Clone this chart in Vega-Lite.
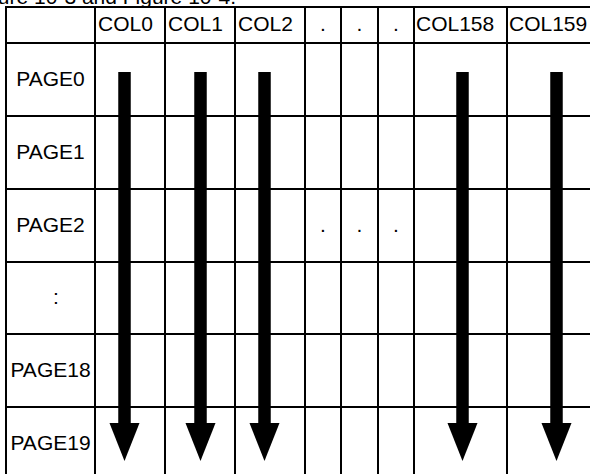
{
  "$schema": "https://vega.github.io/schema/vega-lite/v6.json",
  "width": 590,
  "height": 474,
  "padding": 0,
  "autosize": {"type": "none"},
  "background": "white",
  "config": {
    "view": {"stroke": null},
    "text": {"font": "Liberation Sans", "fontSize": 21, "color": "black"}
  },
  "datasets": {
    "vlines": [
      {"x": 6, "y": 7, "y2": 480}, {"x": 95, "y": 7, "y2": 480}, {"x": 165, "y": 7, "y2": 480},
      {"x": 235, "y": 7, "y2": 480}, {"x": 305, "y": 7, "y2": 480}, {"x": 341, "y": 7, "y2": 480},
      {"x": 378, "y": 7, "y2": 480}, {"x": 414, "y": 7, "y2": 480}, {"x": 507, "y": 7, "y2": 480},
      {"x": 600, "y": 7, "y2": 480}
    ],
    "hlines": [
      {"y": 7, "x": 5, "x2": 600}, {"y": 43, "x": 5, "x2": 600}, {"y": 116, "x": 5, "x2": 600},
      {"y": 189, "x": 5, "x2": 600}, {"y": 262, "x": 5, "x2": 600}, {"y": 334, "x": 5, "x2": 600},
      {"y": 407, "x": 5, "x2": 600}
    ],
    "headers": [
      {"label": "COL0", "x": 98, "y": 25}, {"label": "COL1", "x": 168, "y": 25},
      {"label": "COL2", "x": 238, "y": 25}, {"label": "COL158", "x": 416, "y": 25},
      {"label": "COL159", "x": 509, "y": 25}
    ],
    "dots": [
      {"label": ".", "x": 323, "y": 25}, {"label": ".", "x": 359.5, "y": 25}, {"label": ".", "x": 396, "y": 25},
      {"label": ".", "x": 323, "y": 225.5}, {"label": ".", "x": 359.5, "y": 225.5}, {"label": ".", "x": 396, "y": 225.5}
    ],
    "rows": [
      {"label": "PAGE0", "x": 50.5, "y": 79.5}, {"label": "PAGE1", "x": 50.5, "y": 152.5},
      {"label": "PAGE2", "x": 50.5, "y": 225.5}, {"label": ":", "x": 56, "y": 298},
      {"label": "PAGE18", "x": 50.5, "y": 370.5}, {"label": "PAGE19", "x": 50.5, "y": 443.5}
    ],
    "arrows": [
      {"col": "COL0", "x": 124.5, "y": 72, "y2": 424, "head": 442},
      {"col": "COL1", "x": 200.5, "y": 72, "y2": 424, "head": 442},
      {"col": "COL2", "x": 264.5, "y": 72, "y2": 424, "head": 442},
      {"col": "COL158", "x": 462.5, "y": 72, "y2": 424, "head": 442},
      {"col": "COL159", "x": 556.5, "y": 72, "y2": 424, "head": 442}
    ],
    "title": [{"label": "Figure 10-3 and Figure 10-4.", "x": 236, "y": 4}]
  },
  "layer": [
    {
      "data": {"name": "vlines"},
      "mark": {"type": "rule", "color": "black", "strokeWidth": 2},
      "encoding": {
        "x": {"field": "x", "type": "quantitative", "scale": {"domain": [0, 590], "nice": false, "zero": false}, "axis": null},
        "y": {"field": "y", "type": "quantitative", "scale": {"domain": [0, 474], "reverse": true, "nice": false, "zero": false}, "axis": null},
        "y2": {"field": "y2"}
      }
    },
    {
      "data": {"name": "hlines"},
      "mark": {"type": "rule", "color": "black", "strokeWidth": 2},
      "encoding": {
        "x": {"field": "x", "type": "quantitative", "scale": {"domain": [0, 590], "nice": false, "zero": false}, "axis": null},
        "x2": {"field": "x2"},
        "y": {"field": "y", "type": "quantitative", "scale": {"domain": [0, 474], "reverse": true, "nice": false, "zero": false}, "axis": null}
      }
    },
    {
      "data": {"name": "arrows"},
      "mark": {"type": "rule", "color": "black", "strokeWidth": 12.5},
      "encoding": {
        "x": {"field": "x", "type": "quantitative", "scale": {"domain": [0, 590], "nice": false, "zero": false}, "axis": null},
        "y": {"field": "y", "type": "quantitative", "scale": {"domain": [0, 474], "reverse": true, "nice": false, "zero": false}, "axis": null},
        "y2": {"field": "y2"}
      }
    },
    {
      "data": {"name": "arrows"},
      "mark": {"type": "point", "shape": "M-0.79,-1L0.79,-1L0,1Z", "size": 1444, "filled": true, "color": "black", "opacity": 1, "strokeWidth": 0},
      "encoding": {
        "x": {"field": "x", "type": "quantitative", "scale": {"domain": [0, 590], "nice": false, "zero": false}, "axis": null},
        "y": {"field": "head", "type": "quantitative", "scale": {"domain": [0, 474], "reverse": true, "nice": false, "zero": false}, "axis": null}
      }
    },
    {
      "data": {"name": "headers"},
      "mark": {"type": "text", "align": "left", "baseline": "middle"},
      "encoding": {
        "x": {"field": "x", "type": "quantitative", "scale": {"domain": [0, 590], "nice": false, "zero": false}, "axis": null},
        "y": {"field": "y", "type": "quantitative", "scale": {"domain": [0, 474], "reverse": true, "nice": false, "zero": false}, "axis": null},
        "text": {"field": "label"}
      }
    },
    {
      "data": {"name": "dots"},
      "mark": {"type": "text", "align": "center", "baseline": "middle"},
      "encoding": {
        "x": {"field": "x", "type": "quantitative", "scale": {"domain": [0, 590], "nice": false, "zero": false}, "axis": null},
        "y": {"field": "y", "type": "quantitative", "scale": {"domain": [0, 474], "reverse": true, "nice": false, "zero": false}, "axis": null},
        "text": {"field": "label"}
      }
    },
    {
      "data": {"name": "rows"},
      "mark": {"type": "text", "align": "center", "baseline": "middle"},
      "encoding": {
        "x": {"field": "x", "type": "quantitative", "scale": {"domain": [0, 590], "nice": false, "zero": false}, "axis": null},
        "y": {"field": "y", "type": "quantitative", "scale": {"domain": [0, 474], "reverse": true, "nice": false, "zero": false}, "axis": null},
        "text": {"field": "label"}
      }
    },
    {
      "data": {"name": "title"},
      "mark": {"type": "text", "align": "right", "baseline": "alphabetic"},
      "encoding": {
        "x": {"field": "x", "type": "quantitative", "scale": {"domain": [0, 590], "nice": false, "zero": false}, "axis": null},
        "y": {"field": "y", "type": "quantitative", "scale": {"domain": [0, 474], "reverse": true, "nice": false, "zero": false}, "axis": null},
        "text": {"field": "label"}
      }
    }
  ]
}
